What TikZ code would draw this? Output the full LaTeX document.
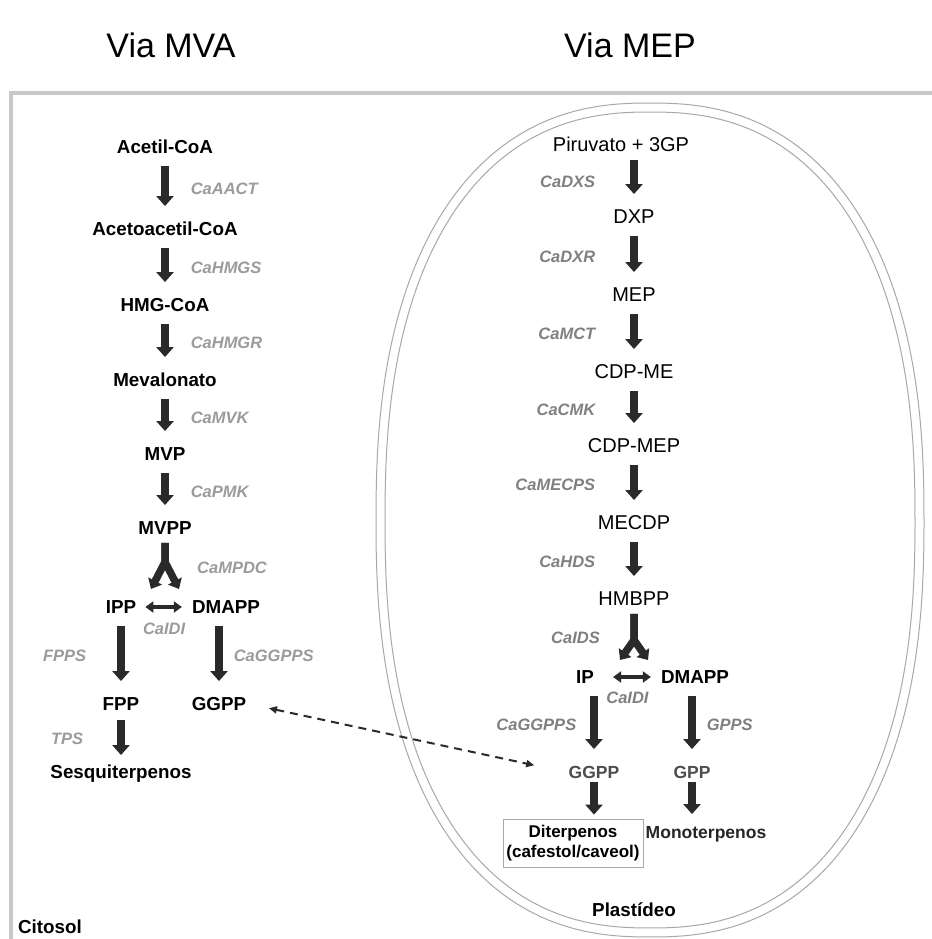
\documentclass[tikz,border=0pt]{standalone}
\usepackage{fontspec}
\setmainfont{Liberation Sans}
\usetikzlibrary{arrows.meta,positioning}
\definecolor{arrowc}{HTML}{2A2A2A}
\definecolor{enzL}{HTML}{9B9B9B}
\definecolor{enzR}{HTML}{808080}
\definecolor{framec}{HTML}{C8C8C8}
\definecolor{membc}{HTML}{A8A8A8}
\definecolor{ggpc}{HTML}{4D4D4D}
\tikzset{
  mol/.style={font=\bfseries\fontsize{18.8}{22}\selectfont, inner sep=3pt, text height=13.5pt, text depth=0pt},
  molr/.style={mol, font=\fontsize{20}{22}\selectfont},
  prod/.style={mol, font=\bfseries\fontsize{17.5}{20}\selectfont},
  enz/.style={font=\bfseries\itshape\fontsize{16.5}{20}\selectfont, text=enzL, inner sep=0pt, text height=12pt, text depth=0pt},
  enzp/.style={enz, text=enzR},
  rxn/.style={draw=arrowc, line width=7.5pt, -{Triangle[width=17pt,length=10pt]}, shorten <=9pt, shorten >=13pt},
  fork/.style={draw=arrowc, line width=7.5pt, -{Triangle[width=15pt,length=9pt]}, shorten <=5pt},
  iso/.style={draw=arrowc, line width=4pt, {Triangle[width=11pt,length=8pt]}-{Triangle[width=11pt,length=8pt]}},
  xfer/.style={draw=arrowc, line width=2pt, dash pattern=on 8pt off 6pt, {Triangle[width=7pt,length=8pt]}-{Triangle[width=7pt,length=8pt]}},
  memb/.style={draw=membc, line width=1pt},
  dbox/.style={font=\bfseries\fontsize{17}{20}\selectfont, draw=membc, line width=0.8pt, align=center, minimum width=140pt, minimum height=48pt, inner sep=2pt}
}
\begin{document}
\begin{tikzpicture}[x=1pt, y=-1pt]
    \path[use as bounding box, fill=white] (0,0) rectangle (931,939);

    \draw[framec, line width=4pt] (11,945) -- (11,93) -- (940,93);
    \draw[memb] plot[smooth cycle, domain=1:358, samples=120]
      ({650+274*cos(\x)*pow(abs(cos(\x)),-0.16)}, {520+417*sin(\x)*pow(abs(sin(\x)),-0.16)});
    \draw[memb] plot[smooth cycle, domain=1:358, samples=120]
      ({650+265*cos(\x)*pow(abs(cos(\x)),-0.16)}, {520+408*sin(\x)*pow(abs(sin(\x)),-0.16)});

    \node[font=\fontsize{34}{38}\selectfont] (tmva) at (171,45) {Via MVA};
    \node[font=\fontsize{34}{38}\selectfont] (tmep) at (630,45) {Via MEP};

    \node[mol] (acetil) at (165,147) {Acetil-CoA};
    \node[mol] (acetoa) at (165,229) {Acetoacetil-CoA};
    \node[mol] (hmg) at (165,305) {HMG-CoA};
    \node[mol] (mev) at (165,380) {Mevalonato};
    \node[mol] (mvp) at (165,454) {MVP};
    \node[mol] (mvpp) at (165,528) {MVPP};
    \node[mol] (ippL) at (121,607) {IPP};
    \node[mol] (dmappL) at (226,607) {DMAPP};
    \node[mol] (fpp) at (121,704) {FPP};
    \node[mol] (ggppL) at (219,704) {GGPP};
    \node[mol] (sesq) at (121,772) {Sesquiterpenos};
    \node[mol] (cito) at (50,927) {Citosol};

    \draw[rxn] (acetil) -- node[enz, right=22pt] {CaAACT} (acetoa);
    \draw[rxn] (acetoa) -- node[enz, right=22pt] {CaHMGS} (hmg);
    \draw[rxn] (hmg) -- node[enz, right=22pt] {CaHMGR} (mev);
    \draw[rxn] (mev) -- node[enz, right=22pt] {CaMVK} (mvp);
    \draw[rxn] (mvp) -- node[enz, right=22pt] {CaPMK} (mvpp);

    \coordinate (mvfork) at (165,562);
    \coordinate (mvtipL) at (151,589);
    \coordinate (mvtipR) at (179,589);
    \draw[fork] (mvpp) -- (mvfork) -- (mvtipL);
    \draw[fork] (mvpp) -- (mvfork) -- (mvtipR);
    \node[enz, right=32pt of mvfork, yshift=-5pt] (mpdc) {CaMPDC};

    \draw[iso, shorten <=6pt, shorten >=7pt] (ippL) -- node[enz, below=13pt] {CaIDI} (dmappL);
    \draw[rxn] (ippL) -- node[enz, left=31pt] {FPPS} (fpp);
    \draw[rxn] (ggppL |- dmappL.south) -- node[enz, right=11pt] {CaGGPPS} (ggppL);
    \draw[rxn, shorten <=6pt, shorten >=7pt] (fpp) -- node[enz, left=34pt] {TPS} (sesq);

    \node[molr] (piru) at (621,145) {Piruvato + 3GP};
    \node[molr] (dxp) at (634,217) {DXP};
    \node[molr] (mep) at (634,295) {MEP};
    \node[molr] (cdpme) at (634,372) {CDP-ME};
    \node[molr] (cdpmep) at (634,446) {CDP-MEP};
    \node[molr] (mecdp) at (634,523) {MECDP};
    \node[molr] (hmbpp) at (634,599) {HMBPP};
    \node[mol] (ipP) at (585,677) {IP};
    \node[mol] (dmappP) at (695,677) {DMAPP};
    \node[prod, text=ggpc] (ggppP) at (594,772) {GGPP};
    \node[prod, text=ggpc] (gpp) at (692,772) {GPP};
    \node[dbox] (diterp) at (573,843) {Diterpenos\\(cafestol/caveol)};
    \node[prod, text=black!85] (mono) at (706,832) {Monoterpenos};
    \node[mol] (plast) at (634,910) {Plastídeo};

    \draw[rxn, shorten <=5pt] (piru.south -| dxp) -- node[enzp, left=35pt] {CaDXS} (dxp);
    \draw[rxn] (dxp) -- node[enzp, left=35pt] {CaDXR} (mep);
    \draw[rxn] (mep) -- node[enzp, left=35pt] {CaMCT} (cdpme);
    \draw[rxn] (cdpme) -- node[enzp, left=35pt] {CaCMK} (cdpmep);
    \draw[rxn] (cdpmep) -- node[enzp, left=35pt] {CaMECPS} (mecdp);
    \draw[rxn] (mecdp) -- node[enzp, left=35pt] {CaHDS} (hmbpp);

    \coordinate (hbfork) at (634,640);
    \coordinate (hbtipL) at (620,660);
    \coordinate (hbtipR) at (648,660);
    \draw[fork] (hmbpp) -- (hbfork) -- (hbtipL);
    \draw[fork] (hmbpp) -- (hbfork) -- (hbtipR);
    \node[enzp, left=34pt of hbfork, yshift=3pt] (ids) {CaIDS};

    \draw[iso, shorten <=16pt, shorten >=7pt] (ipP) -- node[enzp, below=12pt] {CaIDI} (dmappP);
    \draw[rxn] (ggppP |- ipP.south) -- node[enzp, left=14pt] {CaGGPPS} (ggppP);
    \draw[rxn] (gpp |- dmappP.south) -- node[enzp, right=11pt] {GPPS} (gpp);
    \draw[rxn, shorten <=0pt, shorten >=4pt] (ggppP) -- (ggppP |- diterp.north);
    \draw[rxn, shorten <=0pt, shorten >=8pt] (gpp) -- (gpp |- mono.north);

    \draw[xfer, shorten <=20pt, shorten >=32pt] (ggppL.east) -- (ggppP.west);
\end{tikzpicture}
\end{document}
